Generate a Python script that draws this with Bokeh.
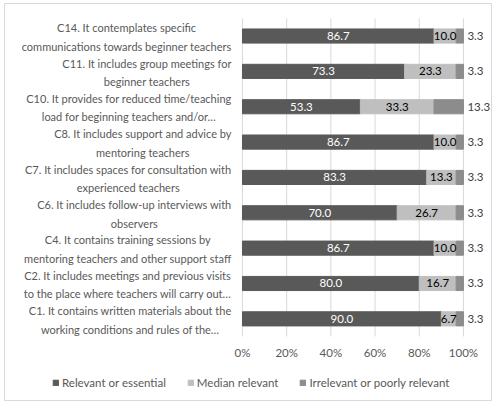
import pandas as pd
from bokeh.plotting import figure
from bokeh.models import ColumnDataSource, Range1d, Legend, LegendItem
from bokeh.core.properties import value
from bokeh.embed import file_html
from bokeh.resources import INLINE

# categories, top to bottom
categories = [
    "C14. It contemplates specific\ncommunications towards beginner teachers",
    "C11. It includes group meetings for\nbeginner teachers",
    "C10. It provides for reduced time/teaching\nload for beginning teachers and/or…",
    "C8. It includes support and advice by\nmentoring teachers",
    "C7. It includes spaces for consultation with\nexperienced teachers",
    "C6. It includes follow-up interviews with\nobservers",
    "C4. It contains training sessions by\nmentoring teachers and other support staff",
    "C2. It includes meetings and previous visits\nto the place where teachers will carry out…",
    "C1. It contains written materials about the\nworking conditions and rules of the…",
]
relevant = [86.7, 73.3, 53.3, 86.7, 83.3, 70.0, 86.7, 80.0, 90.0]
median = [10.0, 23.3, 33.3, 10.0, 13.3, 26.7, 10.0, 16.7, 6.7]
irrelevant = [3.3, 3.3, 13.3, 3.3, 3.3, 3.3, 3.3, 3.3, 3.3]
series = ["Relevant or essential", "Median relevant", "Irrelevant or poorly relevant"]
colors = ["#595959", "#bfbfbf", "#8c8c8c"]
x_ticks = [0, 20, 40, 60, 80, 100]

FONT = "Lato"
GREY_TXT = "#595959"
GRID = "#d9d9d9"

n = len(categories)

# 100% stacked: normalise each row; row 0 on top
df = pd.DataFrame({"cat": categories, "a": relevant, "b": median, "c": irrelevant})
df["pos"] = n - 1 - df.index
total = df["a"] + df["b"] + df["c"]
df["a_r"] = df["a"] / total * 100
df["b_r"] = df["a_r"] + df["b"] / total * 100
df["c_r"] = df["b_r"] + df["c"] / total * 100
df["zero"] = 0.0
df["a_m"] = df["a_r"] / 2
df["b_m"] = (df["a_r"] + df["b_r"]) / 2
df["a_t"] = df["a"].map("{:.1f}".format)
df["b_t"] = df["b"].map("{:.1f}".format)
df["c_t"] = df["c"].map("{:.1f}".format)
source = ColumnDataSource(df)

ticks = ColumnDataSource(dict(x=x_ticks, lab=[f"{t}%" for t in x_ticks]))

# the frame is the whole chart area (its outline is the chart border);
# category labels, tick labels and legend all live inside it
p = figure(x_range=Range1d(-107.7, 112.7), y_range=Range1d(-2.31, 8.92),
           frame_width=487, frame_height=397, x_axis_location=None, y_axis_location=None,
           output_backend="svg", toolbar_location=None, tools="",
           min_border_left=4, min_border_right=6, min_border_top=3, min_border_bottom=8)
p.grid.visible = False
p.outline_line_color = GRID

# grid lines (the 0% one doubles as the category axis line)
p.segment(x0="x", x1="x", y0=-0.5, y1=n - 0.5, source=ticks, line_color=GRID, line_width=1)

r1 = p.hbar(y="pos", left="zero", right="a_r", height=0.4, color=colors[0], source=source)
r2 = p.hbar(y="pos", left="a_r", right="b_r", height=0.4, color=colors[1], source=source)
r3 = p.hbar(y="pos", left="b_r", right="c_r", height=0.4, color=colors[2], source=source)

# data labels
p.text(x="a_m", y="pos", text="a_t", source=source, text_align="center", text_baseline="middle",
       text_font=value(FONT), text_font_size="11.5px", text_color="white")
p.text(x="b_m", y="pos", text="b_t", source=source, text_align="center", text_baseline="middle",
       text_font=value(FONT), text_font_size="11.5px", text_color="#000000")
p.text(x="c_r", y="pos", text="c_t", source=source, text_align="left", text_baseline="middle",
       x_offset=4, text_font=value(FONT), text_font_size="11.5px", text_color="#404040")

# category labels: block right-aligned to the axis, lines centred (like Excel)
p.text(x="zero", y="pos", text="cat", source=source, x_offset=-11, y_offset=1,
       anchor="center_right", text_align="center", text_baseline="middle",
       text_font=value(FONT), text_font_size="11px", text_color=GREY_TXT,
       text_line_height=1.42)

# x tick labels
p.text(x="x", y=-0.955, text="lab", source=ticks, text_align="center", text_baseline="middle",
       text_font=value(FONT), text_font_size="11.5px", text_color=GREY_TXT)

legend = Legend(items=[LegendItem(label=series[0], renderers=[r1]),
                       LegendItem(label=series[1], renderers=[r2]),
                       LegendItem(label=series[2], renderers=[r3])],
                orientation="horizontal", location=(48, 11),
                glyph_width=7, glyph_height=7, label_standoff=3, spacing=21,
                label_text_font=FONT, label_text_font_size="11.5px", label_text_color=GREY_TXT,
                border_line_color=None, background_fill_alpha=0, padding=3, margin=0)
p.add_layout(legend)

open("out.html", "w").write(file_html(p, INLINE))
